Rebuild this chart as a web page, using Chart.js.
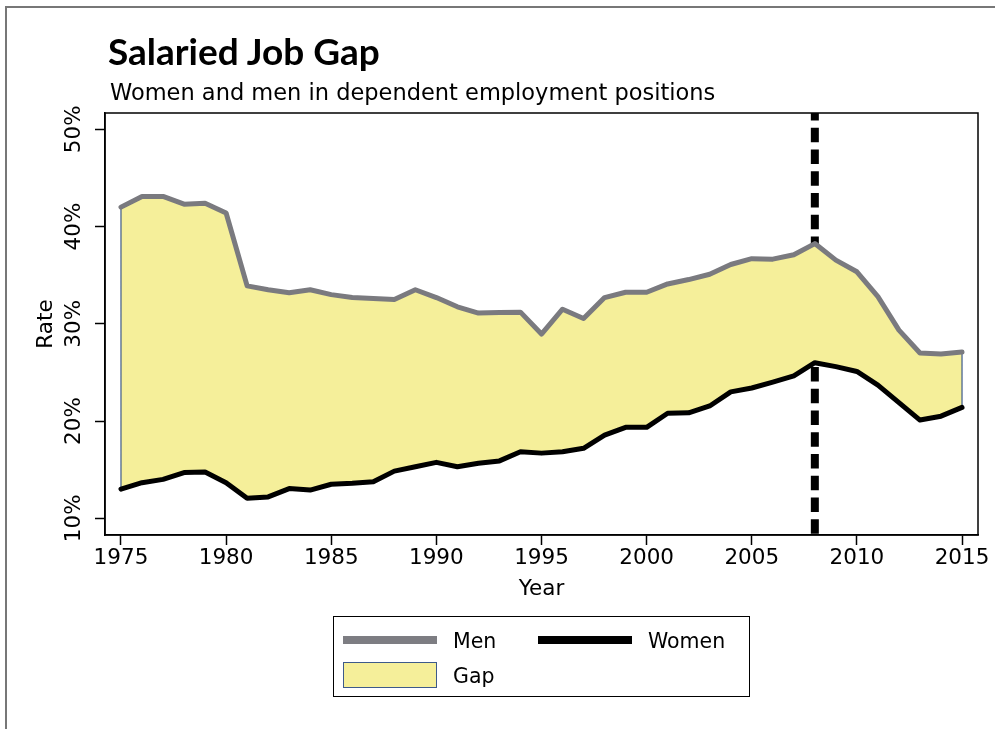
<!DOCTYPE html>
<html>
<head>
<meta charset="utf-8">
<title>Salaried Job Gap</title>
<script src="https://cdn.jsdelivr.net/npm/chart.js@4.4.1/dist/chart.umd.min.js"></script>
<style>
  html, body { margin: 0; padding: 0; background: #fff; }
  body { width: 995px; height: 729px; position: relative; overflow: hidden; font-family: "DejaVu Sans", sans-serif; color: #000; }
  #frame { position: absolute; left: 5px; top: 6px; width: 1000px; height: 740px; border-top: 2px solid #777; border-left: 2px solid #777; }
  #chart { position: absolute; left: 0; top: 0; }
  #title { position: absolute; left: 108px; top: 32px; font: bold 37px Lato, "DejaVu Sans", sans-serif; line-height: 37px; white-space: nowrap; }
  #subtitle { position: absolute; left: 110px; top: 81px; font-size: 22.5px; line-height: 22.5px; white-space: nowrap; }
  #legend { position: absolute; left: 333px; top: 616px; width: 415px; height: 79px; border: 1.5px solid #000; }
  .sw { position: absolute; width: 94px; }
  .lab { position: absolute; font-size: 20.5px; line-height: 20px; white-space: nowrap; }
</style>
</head>
<body>
<div id="frame"></div>
<canvas id="chart" width="995" height="729"></canvas>
<div id="title">Salaried Job Gap</div>
<div id="subtitle">Women and men in dependent employment positions</div>
<div id="legend">
  <div class="sw" style="left:9px; top:19px; height:8px; background:#7d7d82;"></div>
  <div class="lab" style="left:119px; top:14px;">Men</div>
  <div class="sw" style="left:204px; top:19px; height:8px; background:#000;"></div>
  <div class="lab" style="left:314px; top:14px;">Women</div>
  <div class="sw" style="left:9px; top:45px; height:24px; width:92px; background:#f5ef9a; border:1px solid #3d5a8a;"></div>
  <div class="lab" style="left:119px; top:49px;">Gap</div>
</div>
<script>
// years shown on the x axis
const years = [1975, 1976, 1977, 1978, 1979, 1980, 1981, 1982, 1983, 1984,
               1985, 1986, 1987, 1988, 1989, 1990, 1991, 1992, 1993, 1994,
               1995, 1996, 1997, 1998, 1999, 2000, 2001, 2002, 2003, 2004,
               2005, 2006, 2007, 2008, 2009, 2010, 2011, 2012, 2013, 2014, 2015];

// share in dependent employment, percent
const men = [42.0, 43.1, 43.1, 42.3, 42.4, 41.4, 33.9, 33.5, 33.2, 33.5,
             33.0, 32.7, 32.6, 32.5, 33.5, 32.7, 31.75, 31.1, 31.15, 31.2,
             28.95, 31.5, 30.55, 32.7, 33.25, 33.25, 34.1, 34.55, 35.1, 36.1,
             36.7, 36.65, 37.1, 38.25, 36.55, 35.35, 32.8, 29.35, 27.0, 26.9, 27.1];

const women = [13.0, 13.66, 14.0, 14.7, 14.76, 13.66, 12.05, 12.2, 13.05, 12.9,
               13.5, 13.6, 13.76, 14.85, 15.3, 15.75, 15.3, 15.65, 15.9, 16.85,
               16.7, 16.85, 17.2, 18.55, 19.35, 19.35, 20.8, 20.85, 21.55, 23.0,
               23.4, 24.0, 24.65, 26.0, 25.6, 25.1, 23.7, 21.9, 20.1, 20.5, 21.4];

const yTicks = [10, 20, 30, 40, 50];
const crisisYear = 2008;

const menPoints = years.map((yr, i) => ({ x: yr, y: men[i] }));
const womenPoints = years.map((yr, i) => ({ x: yr, y: women[i] }));
// closed outline: men forward, women back, then close
const gapPoints = menPoints.concat(womenPoints.slice().reverse(), [menPoints[0]]);

const tickFont = { family: 'DejaVu Sans', size: 21.5 };

const chartExtras = {
    id: 'chartExtras',
    beforeDatasetsDraw(chart) {
        const { ctx, chartArea, scales } = chart;
        const px = scales.x.getPixelForValue(crisisYear);
        ctx.save();
        ctx.beginPath();
        ctx.rect(chartArea.left, chartArea.top, chartArea.width, chartArea.height);
        ctx.clip();
        ctx.strokeStyle = '#000';
        ctx.lineWidth = 8;
        ctx.setLineDash([14.5, 7.25]);
        ctx.lineDashOffset = 7;
        ctx.beginPath();
        ctx.moveTo(px, chartArea.top);
        ctx.lineTo(px, chartArea.bottom);
        ctx.stroke();
        ctx.restore();
    },
    afterDraw(chart) {
        const { ctx, chartArea, scales } = chart;
        ctx.save();
        // plot frame
        ctx.strokeStyle = '#000';
        ctx.lineWidth = 1.5;
        ctx.strokeRect(chartArea.left, chartArea.top, chartArea.width, chartArea.height);
        // rotated y tick labels
        ctx.fillStyle = '#000';
        ctx.font = '21.5px "DejaVu Sans"';
        ctx.textAlign = 'center';
        ctx.textBaseline = 'middle';
        yTicks.forEach(v => {
            const py = scales.y.getPixelForValue(v);
            ctx.save();
            ctx.translate(74, py);
            ctx.rotate(-Math.PI / 2);
            ctx.fillText(v + '%', 0, 0);
            ctx.restore();
        });
        ctx.restore();
    }
};

new Chart(document.getElementById('chart').getContext('2d'), {
    type: 'line',
    data: {
        datasets: [
            {
                label: 'Women',
                data: womenPoints,
                borderColor: '#000',
                borderWidth: 5,
                borderCapStyle: 'round',
                borderJoinStyle: 'round',
                pointRadius: 0,
                fill: false,
                order: 0
            },
            {
                label: 'Men',
                data: menPoints,
                borderColor: '#7a7a7f',
                borderWidth: 5,
                borderCapStyle: 'round',
                borderJoinStyle: 'round',
                pointRadius: 0,
                fill: false,
                order: 1
            },
            {
                label: 'Gap',
                data: gapPoints,
                borderColor: '#3d5a8a',
                borderWidth: 1.2,
                backgroundColor: '#f5ef9a',
                pointRadius: 0,
                fill: 'shape',
                order: 2
            }
        ]
    },
    options: {
        responsive: false,
        animation: false,
        events: [],
        layout: {
            padding: { top: 113, right: 17, bottom: 124, left: 0 }
        },
        scales: {
            x: {
                type: 'linear',
                min: 1974.24,
                max: 2015.76,
                afterFit: scale => { scale.height = 70; },
                grid: { drawOnChartArea: false, drawTicks: true, tickLength: 10, tickWidth: 1.5, tickColor: '#000' },
                border: { display: true, color: '#000', width: 1.5 },
                ticks: {
                    stepSize: 5,
                    includeBounds: false,
                    font: tickFont,
                    color: '#000',
                    padding: 1,
                    maxRotation: 0,
                    callback: v => String(v)
                },
                title: { display: true, text: 'Year', font: tickFont, color: '#000', padding: { top: 0, bottom: 2.4 } }
            },
            y: {
                min: 8.28,
                max: 51.68,
                afterFit: scale => { scale.width = 105; },
                grid: { drawOnChartArea: false, drawTicks: true, tickLength: 10, tickWidth: 1.5, tickColor: '#000' },
                border: { display: true, color: '#000', width: 1.5 },
                ticks: { stepSize: 10, includeBounds: false, display: false },
                title: { display: true, text: 'Rate', font: tickFont, color: '#000', padding: { top: 33.4, bottom: 0 } }
            }
        },
        plugins: {
            legend: { display: false },
            tooltip: { enabled: false }
        }
    },
    plugins: [chartExtras]
});
</script>
</body>
</html>
